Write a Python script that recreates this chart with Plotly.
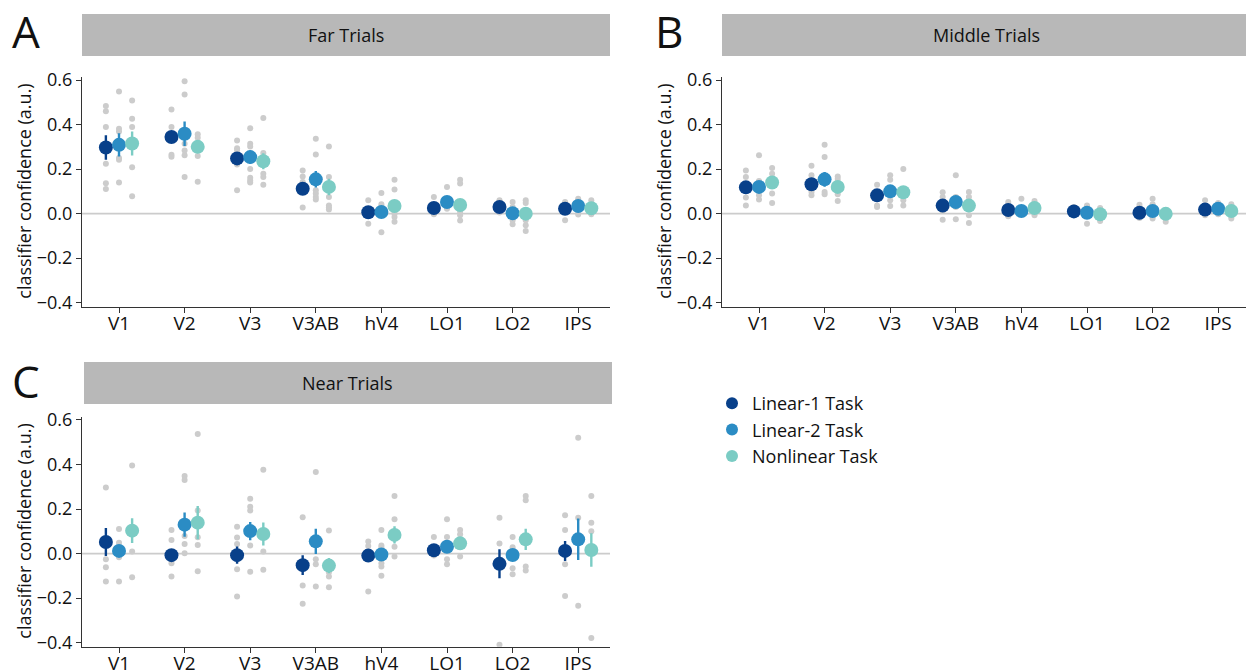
import plotly.graph_objects as go

regions = ["V1", "V2", "V3", "V3AB", "hV4", "LO1", "LO2", "IPS"]
tasks = ["Linear-1 Task", "Linear-2 Task", "Nonlinear Task"]
task_colors = ["#08408a", "#2b8cc4", "#7bccc4"]
panel_titles = ["Far Trials", "Middle Trials", "Near Trials"]

# ---- Far trials ----
far_mean_lin1 = [0.297, 0.344, 0.248, 0.112, 0.006, 0.025, 0.030, 0.022]
far_mean_lin2 = [0.309, 0.359, 0.254, 0.154, 0.007, 0.052, 0.002, 0.034]
far_mean_nonlin = [0.315, 0.300, 0.235, 0.120, 0.034, 0.039, 0.000, 0.024]
far_err_lin1 = [0.055, 0.027, 0.022, 0.015, 0.012, 0.012, 0.012, 0.012]
far_err_lin2 = [0.052, 0.055, 0.030, 0.037, 0.012, 0.015, 0.012, 0.012]
far_err_nonlin = [0.054, 0.028, 0.036, 0.037, 0.015, 0.015, 0.015, 0.012]
far_subj_lin1 = [[0.483, 0.46, 0.389, 0.224, 0.136, 0.111], [0.468, 0.389, 0.265, 0.256],
                 [0.329, 0.294, 0.284, 0.221, 0.105], [0.194, 0.167, 0.142, 0.027],
                 [0.06, -0.045], [0.075, -0.003], [0.06, 0.005], [0.052, -0.03]]
far_subj_lin2 = [[0.549, 0.381, 0.369, 0.25, 0.242, 0.14], [0.595, 0.535, 0.314, 0.284, 0.262, 0.164],
                 [0.383, 0.314, 0.302, 0.2, 0.161, 0.149, 0.14], [0.336, 0.266, 0.105, 0.09, 0.075, 0.064],
                 [0.093, 0.042, -0.084], [0.12, 0.022], [0.052, 0.03, -0.03, -0.048], [0.067, -0.004]]
far_subj_nonlin = [[0.508, 0.426, 0.389, 0.208, 0.078], [0.356, 0.341, 0.259, 0.143],
                   [0.43, 0.272, 0.179, 0.164, 0.13], [0.302, 0.164, 0.075, 0.036, 0.027, 0.018],
                   [0.152, 0.108, 0.0, -0.015, -0.036], [0.152, 0.135, 0.007, -0.007, -0.031],
                   [0.06, 0.048, -0.03, -0.052, -0.078], [0.06, -0.003]]

# ---- Middle trials ----
mid_mean_lin1 = [0.118, 0.132, 0.082, 0.036, 0.016, 0.010, 0.004, 0.018]
mid_mean_lin2 = [0.120, 0.154, 0.100, 0.052, 0.012, 0.004, 0.012, 0.022]
mid_mean_nonlin = [0.140, 0.120, 0.096, 0.036, 0.025, -0.003, -0.001, 0.012]
mid_err_lin1 = [0.012, 0.012, 0.012, 0.012, 0.008, 0.008, 0.008, 0.008]
mid_err_lin2 = [0.015, 0.033, 0.015, 0.015, 0.008, 0.008, 0.008, 0.008]
mid_err_nonlin = [0.015, 0.012, 0.015, 0.012, 0.008, 0.008, 0.008, 0.008]
mid_subj_lin1 = [[0.194, 0.164, 0.072, 0.037], [0.215, 0.172, 0.097, 0.082], [0.13, 0.037, 0.03],
                 [0.096, 0.075, 0.012, -0.027], [0.052, -0.012], [0.03], [0.04, -0.02], [0.06, -0.007]]
mid_subj_lin2 = [[0.262, 0.146, 0.102, 0.082, 0.063], [0.309, 0.254, 0.097, 0.087],
                 [0.172, 0.152, 0.06, 0.034], [0.172, 0.075, 0.03, -0.025], [0.067],
                 [0.037, -0.045], [0.067, 0.042, -0.022], [0.048, -0.003]]
mid_subj_nonlin = [[0.205, 0.179, 0.09, 0.048], [0.167, 0.155, 0.087, 0.057], [0.2, 0.06, 0.037],
                   [0.097, 0.075, -0.007, -0.042], [0.057, -0.007], [0.025, -0.033], [-0.037],
                   [0.042, -0.022]]

# ---- Near trials ----
near_mean_lin1 = [0.052, -0.007, -0.007, -0.052, -0.009, 0.015, -0.046, 0.012]
near_mean_lin2 = [0.012, 0.130, 0.101, 0.055, -0.004, 0.031, -0.006, 0.064]
near_mean_nonlin = [0.103, 0.139, 0.088, -0.054, 0.084, 0.046, 0.064, 0.016]
near_err_lin1 = [0.063, 0.022, 0.039, 0.044, 0.020, 0.015, 0.065, 0.045]
near_err_lin2 = [0.022, 0.054, 0.041, 0.057, 0.015, 0.015, 0.018, 0.093]
near_err_nonlin = [0.056, 0.075, 0.052, 0.034, 0.039, 0.015, 0.048, 0.075]
near_subj_lin1 = [[0.297, -0.025, -0.061, -0.125], [0.106, 0.061, -0.043, -0.103],
                  [0.121, 0.072, 0.043, -0.07, -0.193], [0.163, -0.143, -0.225],
                  [0.054, 0.034, -0.17], [0.075, -0.009], [0.161, 0.045, -0.409],
                  [0.172, 0.106, -0.048, -0.19]]
near_subj_lin2 = [[0.11, 0.049, -0.016, -0.125], [0.348, 0.33, 0.079, 0.043, 0.002],
                  [0.246, 0.21, 0.193, 0.036, -0.082], [0.366, -0.025, -0.048, -0.148],
                  [0.106, 0.036, 0.027, -0.043, -0.058, -0.099], [0.154, 0.075, -0.025, -0.048],
                  [0.075, 0.028, -0.066, -0.093], [0.52, 0.161, -0.234]]
near_subj_nonlin = [[0.396, 0.009, -0.106], [0.537, 0.193, 0.073, 0.039, -0.079],
                    [0.376, 0.009, -0.073], [0.104, -0.084, -0.103, -0.151],
                    [0.258, 0.154, 0.031, -0.013], [0.106, 0.087, -0.013],
                    [0.258, 0.24, -0.058, -0.076], [0.258, 0.139, 0.1, -0.379]]

y_ticks = [-0.4, -0.2, 0.0, 0.2, 0.4, 0.6]
y_ticktext = ["\u22120.4", "\u22120.2", "0.0", "0.2", "0.4", "0.6"]

panels = [
    (panel_titles[0], [far_mean_lin1, far_mean_lin2, far_mean_nonlin],
     [far_err_lin1, far_err_lin2, far_err_nonlin], [far_subj_lin1, far_subj_lin2, far_subj_nonlin]),
    (panel_titles[1], [mid_mean_lin1, mid_mean_lin2, mid_mean_nonlin],
     [mid_err_lin1, mid_err_lin2, mid_err_nonlin], [mid_subj_lin1, mid_subj_lin2, mid_subj_nonlin]),
    (panel_titles[2], [near_mean_lin1, near_mean_lin2, near_mean_nonlin],
     [near_err_lin1, near_err_lin2, near_err_nonlin], [near_subj_lin1, near_subj_lin2, near_subj_nonlin]),
]

W, H = 1246, 670
FONT = "Open Sans"
# pixel boxes of each panel: (x0, x1, ytop, ybottom)
boxes = [(82, 610, 76.7, 306.7), (722, 1246, 76.7, 306.7), (82, 610, 416.6, 646.7)]
strips = [(82, 610, 14, 56), (722, 1260, 14, 56), (84, 612, 362, 404)]
letters = [("A", 26, 31), ("B", 669, 31), ("C", 26, 381)]
offsets = [-0.2, 0.0, 0.2]
px_per_cat = 65.6

fig = go.Figure()
layout = dict(
    width=W, height=H, margin=dict(l=0, r=0, t=0, b=0, autoexpand=False),
    plot_bgcolor="white", paper_bgcolor="white",
    font=dict(family=FONT, size=18, color="#111"),
    showlegend=True,
    legend=dict(x=712 / W, y=1 - 385 / H, xanchor="left", yanchor="top",
                font=dict(size=18, family=FONT), itemsizing="constant",
                tracegroupgap=0, bgcolor="rgba(0,0,0,0)"),
)
shapes, annotations = [], []

for p, (title, means, errs, subjs) in enumerate(panels):
    x0, x1, yt, yb = boxes[p]
    sfx = "" if p == 0 else str(p + 1)
    xa, ya = "x" + sfx, "y" + sfx
    # gray subject dots
    for t in range(3):
        xs, ys = [], []
        for r in range(len(regions)):
            for v in subjs[t][r]:
                xs.append(r + 1 + offsets[t])
                ys.append(v)
        fig.add_trace(go.Scatter(x=xs, y=ys, mode="markers", xaxis=xa, yaxis=ya,
                                 marker=dict(size=6, color="#cccccc"), showlegend=False,
                                 hoverinfo="skip"))
    # means with error bars
    for t in range(3):
        fig.add_trace(go.Scatter(
            x=[r + 1 + offsets[t] for r in range(len(regions))], y=means[t],
            mode="markers", xaxis=xa, yaxis=ya, name=tasks[t],
            marker=dict(size=14, color=task_colors[t]),
            error_y=dict(type="data", array=errs[t], color=task_colors[t], thickness=2.4, width=0),
            showlegend=(p == 0), legendgroup=tasks[t]))
    xr0 = 1 - (119 - 82) / px_per_cat
    xr1 = xr0 + (x1 - x0) / px_per_cat
    layout["xaxis" + sfx] = dict(
        domain=[x0 / W, x1 / W], range=[xr0, xr1], tickmode="array",
        tickvals=list(range(1, 9)), ticktext=regions, showline=True, linecolor="#333",
        linewidth=1.2, ticks="outside", ticklen=5, tickcolor="#333", showgrid=False,
        zeroline=False, anchor=ya, tickfont=dict(size=19), fixedrange=True, automargin=False,
        ticklabelstandoff=-6)
    layout["yaxis" + sfx] = dict(
        domain=[1 - yb / H, 1 - yt / H], range=[-0.418, 0.615], tickmode="array",
        tickvals=y_ticks, ticktext=y_ticktext,
        showline=True, linecolor="#333", linewidth=1.2, ticks="outside", ticklen=5,
        tickcolor="#333", showgrid=False, zeroline=False, anchor=xa, tickfont=dict(size=18),
        fixedrange=True, automargin=False)
    shapes.append(dict(type="line", xref=xa + " domain", yref=ya, x0=0, x1=1, y0=0, y1=0,
                       line=dict(color="#cccccc", width=1.8), layer="below"))
    sx0, sx1, sy0, sy1 = strips[p]
    shapes.append(dict(type="rect", xref="paper", yref="paper", x0=sx0 / W, x1=sx1 / W,
                       y0=1 - sy1 / H, y1=1 - sy0 / H, fillcolor="#b8b8b8", line=dict(width=0)))
    annotations.append(dict(text=title, xref="paper", yref="paper",
                            x=(sx0 + min(sx1, 1250)) / 2 / W, y=1 - (sy0 + sy1) / 2 / H,
                            xanchor="center", yanchor="middle", showarrow=False,
                            font=dict(size=18)))
    annotations.append(dict(text="classifier confidence (a.u.)", xref="paper", yref="paper",
                            x=(x0 - 58) / W, y=1 - (yt + yb) / 2 / H, textangle=-90,
                            xanchor="center", yanchor="middle", showarrow=False,
                            font=dict(size=18)))
    L, lx, ly = letters[p]
    annotations.append(dict(text=L, xref="paper", yref="paper", x=lx / W, y=1 - ly / H,
                            xanchor="center", yanchor="middle", showarrow=False,
                            font=dict(size=44)))

layout["shapes"] = shapes
layout["annotations"] = annotations
fig.update_layout(**layout)
fig.write_html(
    "out.html",
    config={"displayModeBar": False},
    post_script=(
        "document.documentElement.style.margin='0';document.documentElement.style.overflow='hidden';"
        "document.body.style.margin='0';document.body.style.padding='0';"
        "var d=document.getElementById('{plot_id}');"
        "d.style.position='absolute';d.style.left='0px';d.style.top='0px';"
    ),
)
